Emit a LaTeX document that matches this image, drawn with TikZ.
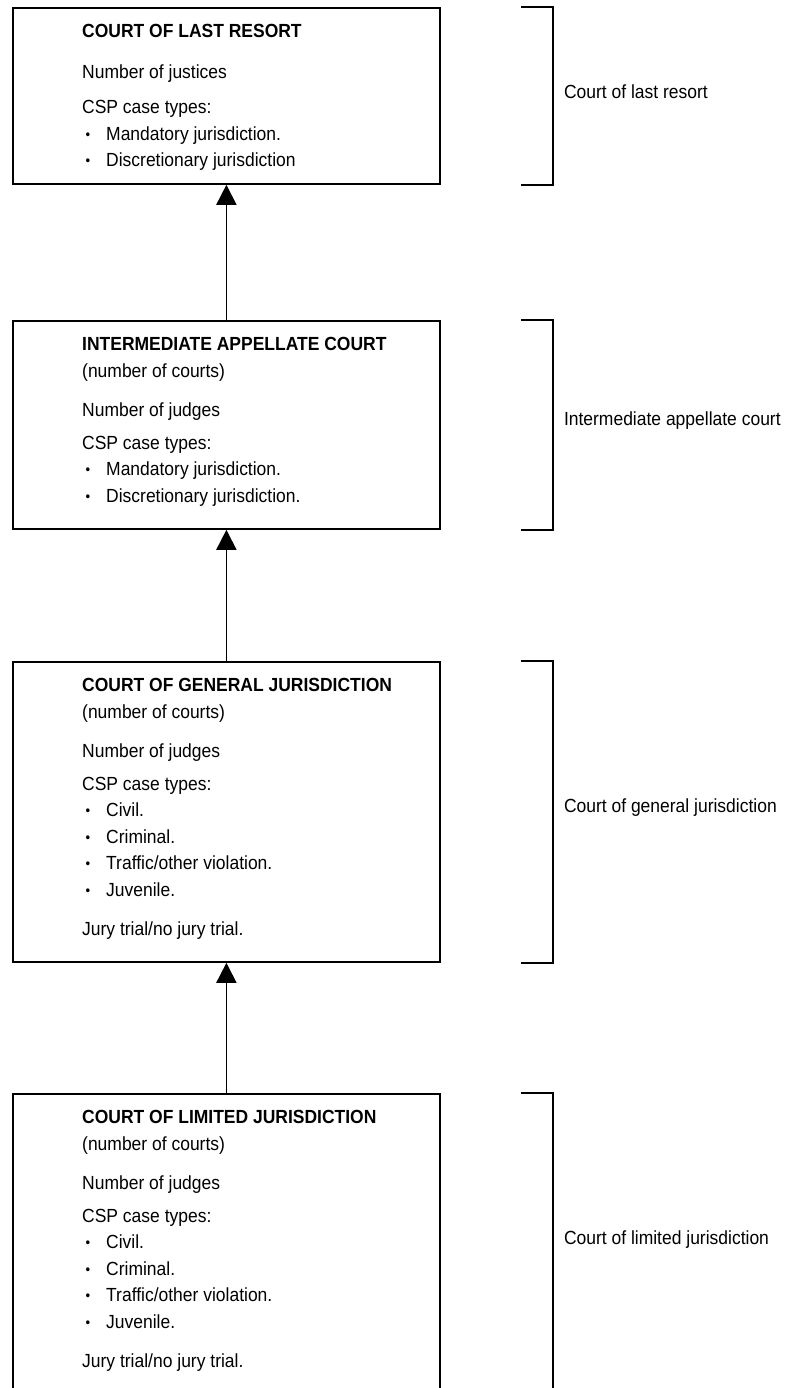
\documentclass[tikz,border=0pt]{standalone}
\usepackage{fontspec}
\setmainfont[FakeStretch=0.92]{Liberation Sans}
\usetikzlibrary{arrows.meta, positioning}

\newcommand{\itm}[1]{\makebox[24pt][l]{\hspace{3.5pt}\raisebox{1pt}{\scalebox{0.75}{\textbullet}}}#1}

\begin{document}
\begin{tikzpicture}[x=1pt, y=-1pt]
    \tikzstyle{court} = [rectangle, draw, line width=1.8pt, minimum width=427pt, inner sep=0pt, anchor=north west]
    \tikzstyle{info} = [align=left, inner sep=0pt, anchor=north west, font=\fontsize{19}{26.5}\selectfont]
    \tikzstyle{tier} = [anchor=west, inner sep=0pt, font=\fontsize{19}{26.5}\selectfont]
    \tikzstyle{arrow} = [line width=1.8pt, -{Triangle[length=20pt, width=20pt]}]
    \tikzstyle{bracket} = [line width=1.8pt]

    \useasboundingbox (0,0) rectangle (785,1388);
    \clip (0,0) rectangle (785,1388);

    % Boxes
    \node (lastresort) [court, minimum height=176pt] at (12,7) {};
    \node (appellate) [court, minimum height=208pt] at (12,320) {};
    \node (general) [court, minimum height=300pt] at (12,661) {};
    \node (limited) [court, minimum height=300pt] at (12,1093) {};

    % Box texts
    \node (lastresort-text) [info] at ([xshift=70pt, yshift=-17.5pt]lastresort.north west)
        {\textbf{COURT OF LAST RESORT}\\[14.5pt]
         Number of justices\\[8.5pt]
         CSP case types:\\
         \itm{Mandatory jurisdiction.}\\
         \itm{Discretionary jurisdiction}};
    \node (appellate-text) [info] at ([xshift=70pt, yshift=-17.5pt]appellate.north west)
        {\textbf{INTERMEDIATE APPELLATE COURT}\\
         (number of courts)\\[12.5pt]
         Number of judges\\[6.5pt]
         CSP case types:\\
         \itm{Mandatory jurisdiction.}\\
         \itm{Discretionary jurisdiction.}};
    \node (general-text) [info] at ([xshift=70pt, yshift=-17.5pt]general.north west)
        {\textbf{COURT OF GENERAL JURISDICTION}\\
         (number of courts)\\[12.5pt]
         Number of judges\\[6.5pt]
         CSP case types:\\
         \itm{Civil.}\\
         \itm{Criminal.}\\
         \itm{Traffic/other violation.}\\
         \itm{Juvenile.}\\[13pt]
         Jury trial/no jury trial.};
    \node (limited-text) [info] at ([xshift=70pt, yshift=-17.5pt]limited.north west)
        {\textbf{COURT OF LIMITED JURISDICTION}\\
         (number of courts)\\[12.5pt]
         Number of judges\\[6.5pt]
         CSP case types:\\
         \itm{Civil.}\\
         \itm{Criminal.}\\
         \itm{Traffic/other violation.}\\
         \itm{Juvenile.}\\[13pt]
         Jury trial/no jury trial.};

    % Brackets and tier labels
    \foreach \crt/\lbl in {lastresort/Court of last resort, appellate/Intermediate appellate court, general/Court of general jurisdiction, limited/Court of limited jurisdiction} {
        \draw [bracket] ([xshift=80pt]\crt.north east) -| ([xshift=112pt]\crt.south east) -- ([xshift=80pt]\crt.south east);
        \node (\crt-tier) [tier] at ([xshift=123pt, yshift=4pt]\crt.east) {\lbl};
    }

    % Arrows
    \draw [arrow] (appellate) -- (lastresort);
    \draw [arrow] (general) -- (appellate);
    \draw [arrow] (limited) -- (general);
\end{tikzpicture}
\end{document}
